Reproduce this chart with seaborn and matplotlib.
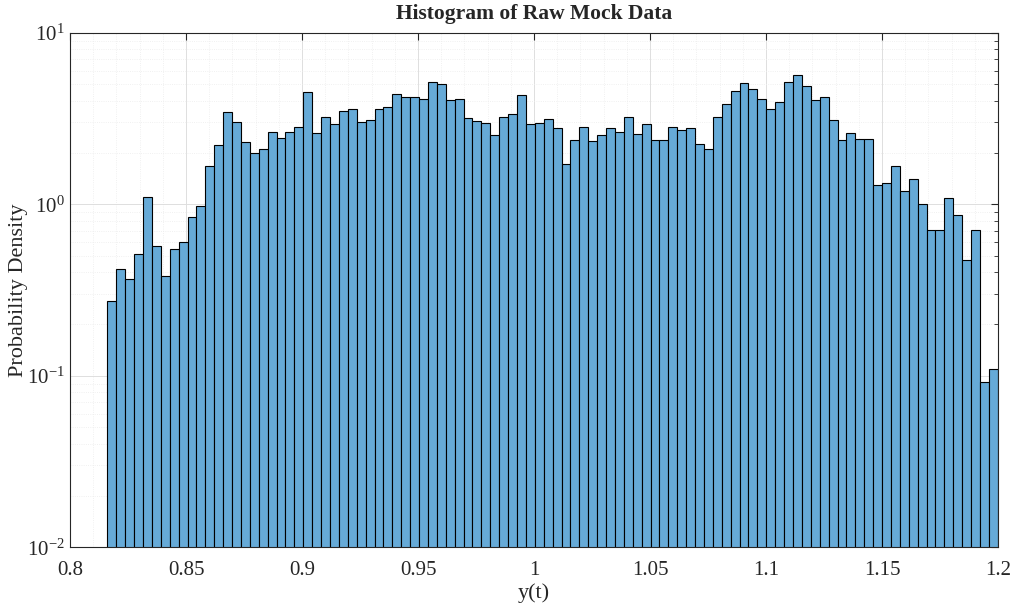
import numpy as np
import pandas as pd
import matplotlib
matplotlib.use("Agg")
import matplotlib.pyplot as plt
import matplotlib.ticker as mticker
import seaborn as sns

# bin range and heights (100 equal bins)
bin_lo = 0.8161
bin_hi = 1.1999
density = [
    0.274, 0.42, 0.367, 0.514, 1.10, 0.567, 0.383, 0.55, 0.60, 0.845,
    0.978, 1.67, 2.21, 3.43, 3.00, 2.32, 1.99, 2.09, 2.65, 2.42,
    2.63, 2.82, 4.51, 2.59, 3.21, 2.94, 3.48, 3.57, 3.02, 3.08,
    3.59, 3.71, 4.39, 4.20, 4.20, 4.11, 5.13, 5.02, 4.06, 4.11,
    3.17, 3.04, 2.98, 2.52, 3.24, 3.38, 4.31, 2.94, 2.98, 3.14,
    2.80, 1.71, 2.37, 2.83, 2.34, 2.54, 2.77, 2.65, 3.21, 2.57,
    2.94, 2.37, 2.37, 2.83, 2.71, 2.80, 2.24, 2.09, 3.23, 3.84,
    4.59, 5.09, 4.70, 4.11, 3.59, 3.93, 5.13, 5.69, 4.87, 4.06,
    4.20, 3.10, 2.37, 2.59, 2.41, 2.41, 1.30, 1.33, 1.66, 1.19,
    1.41, 1.005, 0.71, 0.71, 1.08, 0.863, 0.474, 0.71, 0.0919, 0.110,
]

edges = np.linspace(bin_lo, bin_hi, len(density) + 1)
df = pd.DataFrame({"y": (edges[:-1] + edges[1:]) / 2, "density": density})

sns.set_style("white")
plt.rcParams["font.family"] = ["Liberation Serif", "DejaVu Serif"]
plt.rcParams["mathtext.fontset"] = "stix"

fig = plt.figure(figsize=(10.18, 6.06), dpi=100)
ax = fig.add_axes([0.0688, 0.097, 0.9116, 0.849])

sns.histplot(data=df, x="y", weights="density", bins=edges.tolist(), stat="count",
             color=(0.40, 0.668, 0.845), alpha=1.0, edgecolor="black",
             linewidth=0.8, ax=ax, zorder=2)

ax.set_yscale("log")
ax.set_xlim(0.8, 1.2)
ax.set_ylim(1e-2, 1e1)

ax.xaxis.set_major_locator(mticker.MultipleLocator(0.05))
ax.xaxis.set_minor_locator(mticker.MultipleLocator(0.01))
ax.xaxis.set_major_formatter(mticker.FuncFormatter(lambda v, p: f"{v:g}"))
ax.yaxis.set_major_locator(mticker.LogLocator(base=10, numticks=10))
ax.yaxis.set_minor_locator(mticker.LogLocator(base=10, subs=np.arange(2, 10), numticks=20))
ax.yaxis.set_minor_formatter(mticker.NullFormatter())

ax.grid(True, which="major", color="#dedede", linewidth=0.7, zorder=0)
ax.grid(True, which="minor", color="#ececec", linewidth=0.6, linestyle=":", zorder=0)
ax.set_axisbelow(True)

ax.tick_params(which="both", direction="in", top=True, right=True, labelsize=15, colors="#262626")
ax.tick_params(axis="x", which="minor", length=0)
ax.tick_params(axis="x", which="major", pad=10)
ax.tick_params(axis="y", which="major", pad=4)
ax.tick_params(which="major", length=5)
ax.tick_params(axis="y", which="minor", length=3)
for s in ax.spines.values():
    s.set_color("#262626")
    s.set_linewidth(0.8)

ax.set_title("Histogram of Raw Mock Data", fontsize=15.5, fontweight="bold", pad=10)
ax.set_xlabel("y(t)", fontsize=16, labelpad=2)
ax.set_ylabel("Probability Density", fontsize=16)
ax.yaxis.set_label_coords(-0.045, 0.5)

plt.savefig("out.png", dpi=100)
